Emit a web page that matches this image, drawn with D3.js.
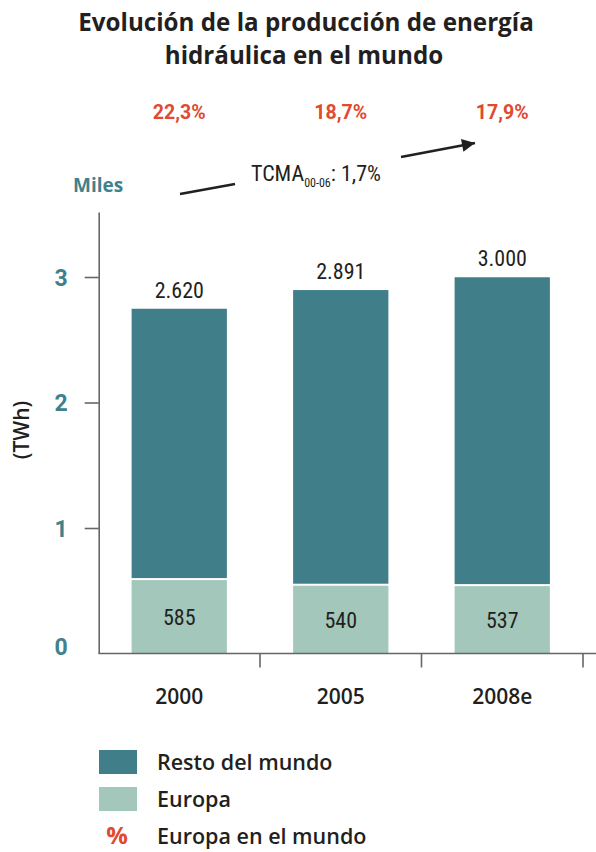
<!DOCTYPE html>
<html><head><meta charset="utf-8">
<script src="https://cdn.jsdelivr.net/npm/d3@7"></script>
<style>
html,body{margin:0;padding:0;background:#fff;}
svg{display:block;}
.cond{font-family:"Liberation Sans Narrow","Roboto Condensed","DejaVu Sans Condensed",Roboto,sans-serif;}
.main{font-family:"Open Sans",Roboto,"Noto Sans",sans-serif;}
.rob{font-family:Roboto,"Noto Sans",sans-serif;}
</style></head>
<body>
<script>
const categories = ["2000", "2005", "2008e"];
const europa = [585, 540, 537];
const worldHeight = [2747, 2896, 2998];          // bar tops as drawn in the picture
const worldLabels = ["2.620", "2.891", "3.000"];
const europaLabels = ["585", "540", "537"];
const shareLabels = ["22,3%", "18,7%", "17,9%"];
const yTicks = [0, 1, 2, 3];

const W = 596, H = 852;
const C_DARK = "#407f8a", C_LIGHT = "#a3c8bb", C_RED = "#e04a2f", C_TEAL = "#3f818c", C_TEXT = "#231f20";

const svg = d3.select("body").append("svg").attr("width", W).attr("height", H);

const x = d3.scaleBand().domain(categories).range([98.5, 583]).paddingInner(0.41).paddingOuter(0.205);
const y = d3.scaleLinear().domain([0, 3.518]).range([653.5, 212]);

// title
svg.append("text").attr("class","main").attr("x", 306).attr("y", 31).attr("text-anchor","middle")
  .attr("font-size", 24.2).attr("font-weight", 700).attr("fill", C_TEXT).text("Evolución de la producción de energía");
svg.append("text").attr("class","main").attr("x", 304).attr("y", 64).attr("text-anchor","middle")
  .attr("font-size", 24.2).attr("font-weight", 700).attr("fill", C_TEXT).text("hidráulica en el mundo");

// share labels
svg.selectAll("text.share").data(shareLabels).join("text").attr("class","share rob")
  .attr("x", (d,i) => x(categories[i]) + x.bandwidth()/2).attr("y", 119)
  .attr("text-anchor","middle").attr("font-size", 19.5).attr("font-weight", 700).attr("fill", C_RED).text(d => d);

// Miles
svg.append("text").attr("class","main").attr("x", 73).attr("y", 192).attr("font-size", 19).attr("font-weight", 700)
  .attr("fill", C_TEAL).text("Miles");

// (TWh)
svg.append("text").attr("class","main").attr("transform","translate(29,430) rotate(-90)").attr("text-anchor","middle")
  .attr("font-size", 21).attr("font-weight", 600).attr("fill", C_TEXT).text("(TWh)");

// TCMA annotation
const tc = svg.append("text").attr("class","cond").attr("x", 251).attr("y", 181).attr("font-size", 22).attr("fill", C_TEXT);
tc.append("tspan").text("TCMA");
tc.append("tspan").attr("font-size", 12).attr("dy", 6).text("00-06");
tc.append("tspan").attr("dy", -6).text(": 1,7%");

const defs = svg.append("defs");
defs.append("marker").attr("id","arr").attr("viewBox","0 0 10 10").attr("refX", 10).attr("refY", 5)
  .attr("markerWidth", 6).attr("markerHeight", 5).attr("markerUnits","strokeWidth").attr("orient","auto")
  .append("path").attr("d","M0,0 L10,5 L0,10 Z").attr("fill", C_TEXT);
svg.append("line").attr("x1",180).attr("y1",194).attr("x2",235).attr("y2",184).attr("stroke",C_TEXT).attr("stroke-width",2.6);
svg.append("line").attr("x1",401).attr("y1",157).attr("x2",475).attr("y2",143).attr("stroke",C_TEXT).attr("stroke-width",2.6)
  .attr("marker-end","url(#arr)");

// bars
const g = svg.append("g");
g.selectAll("rect.rest").data(categories).join("rect").attr("class","rest")
  .attr("x", d => x(d)).attr("width", x.bandwidth())
  .attr("y", (d,i) => y(worldHeight[i]/1000))
  .attr("height", (d,i) => y(europa[i]/1000) - y(worldHeight[i]/1000) - 2)
  .attr("fill", C_DARK);
g.selectAll("rect.eu").data(categories).join("rect").attr("class","eu")
  .attr("x", d => x(d)).attr("width", x.bandwidth())
  .attr("y", (d,i) => y(europa[i]/1000))
  .attr("height", (d,i) => y(0) - y(europa[i]/1000))
  .attr("fill", C_LIGHT);

g.selectAll("text.tot").data(worldLabels).join("text").attr("class","tot cond")
  .attr("x", (d,i) => x(categories[i]) + x.bandwidth()/2).attr("y", (d,i) => y(worldHeight[i]/1000) - 11)
  .attr("text-anchor","middle").attr("font-size", 22).attr("fill", C_TEXT).text(d => d);
g.selectAll("text.eul").data(europaLabels).join("text").attr("class","eul cond")
  .attr("x", (d,i) => x(categories[i]) + x.bandwidth()/2).attr("y", (d,i) => (y(0) + y(europa[i]/1000))/2 + 8)
  .attr("text-anchor","middle").attr("font-size", 22).attr("fill", C_TEXT).text(d => d);

// y axis
const ya = svg.append("g").attr("transform","translate(98.7,0)")
  .call(d3.axisLeft(y).tickValues(yTicks).tickSize(14).tickSizeOuter(0).tickPadding(17).tickFormat(d3.format("d")));
ya.select(".domain").attr("stroke","#666").attr("stroke-width",1.6);
ya.selectAll(".tick line").attr("stroke","#666").attr("stroke-width",1.6);
ya.selectAll(".tick").filter(d => d === 0).select("line").remove();
ya.selectAll(".tick text").attr("class","rob").attr("font-size", 23).attr("font-weight", 700).attr("fill", C_TEAL)
  .attr("dy", d => d === 0 ? "0.05em" : "0.36em");

// x axis
const xa = svg.append("g").attr("transform","translate(0,653.5)");
xa.append("line").attr("x1", 98.7).attr("x2", W).attr("stroke","#666").attr("stroke-width",1.6);
const bounds = categories.map(c => x(c) + x.bandwidth() + x.step()*x.paddingInner()/2);
xa.selectAll("line.bt").data(bounds).join("line").attr("class","bt")
  .attr("x1", d => d).attr("x2", d => d).attr("y1", 0).attr("y2", 14).attr("stroke","#666").attr("stroke-width",1.6);
const xl = svg.append("g").attr("transform","translate(0,653.5)")
  .call(d3.axisBottom(x).tickSize(0).tickPadding(0));
xl.select(".domain").remove();
xl.selectAll(".tick text").attr("class","main").attr("y", 50).attr("dy", 0)
  .attr("font-size", 21).attr("font-weight", 600).attr("fill", C_TEXT);

// legend
const legend = [
  {type:"rect", color:C_DARK, label:"Resto del mundo"},
  {type:"rect", color:C_LIGHT, label:"Europa"},
  {type:"pct", color:C_RED, label:"Europa en el mundo"}
];
const lg = svg.append("g");
legend.forEach((d,i) => {
  const cy = 762 + i*37;
  if (d.type === "rect") {
    lg.append("rect").attr("x", 99).attr("y", cy - 12).attr("width", 38).attr("height", 24).attr("fill", d.color);
  } else {
    lg.append("text").attr("class","main").attr("x", 117).attr("y", cy + 8).attr("text-anchor","middle")
      .attr("font-size", 24).attr("font-weight", 700).attr("fill", d.color).text("%");
  }
  lg.append("text").attr("class","main").attr("x", 157).attr("y", cy + 7.5)
    .attr("font-size", 21.5).attr("font-weight", 600).attr("fill", C_TEXT).text(d.label);
});
</script>
</body></html>
